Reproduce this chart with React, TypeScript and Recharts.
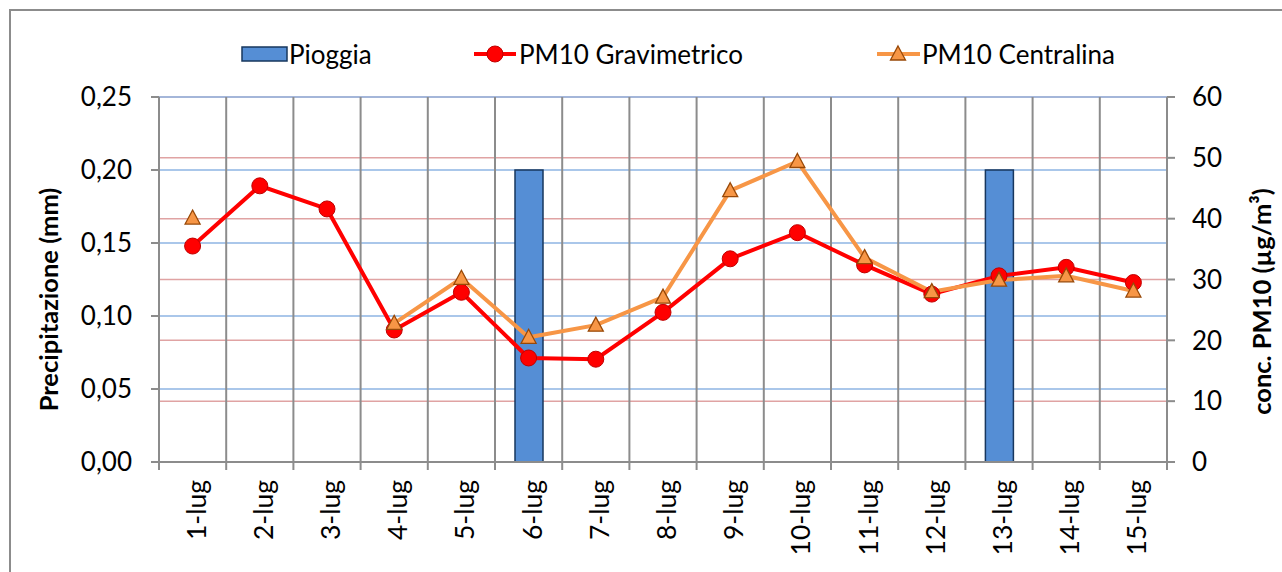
import {
  ComposedChart,
  Bar,
  Line,
  XAxis,
  YAxis,
  CartesianGrid,
  Legend,
} from "recharts";

const days = [
  "1-lug", "2-lug", "3-lug", "4-lug", "5-lug", "6-lug", "7-lug", "8-lug",
  "9-lug", "10-lug", "11-lug", "12-lug", "13-lug", "14-lug", "15-lug",
];
const pioggia = [null, null, null, null, null, 0.2, null, null, null, null, null, null, 0.2, null, null];
const gravimetrico = [35.5, 45.4, 41.6, 21.7, 27.9, 17.1, 16.9, 24.6, 33.4, 37.7, 32.4, 27.6, 30.6, 32.0, 29.5];
const centralina = [40.1, null, null, 22.8, 30.2, 20.5, 22.5, 27.1, 44.6, 49.4, 33.6, 28.0, 29.9, 30.6, 28.1];
const leftTicks = [0, 0.05, 0.1, 0.15, 0.2, 0.25];
const rightTicks = [0, 10, 20, 30, 40, 50, 60];

const data = days.map((d, i) => ({
  day: d,
  pioggia: pioggia[i],
  grav: gravimetrico[i],
  cent: centralina[i],
}));

const FONT = "Lato, 'Open Sans', sans-serif";
const W = 1282;
const H = 572;
const PLOT_W = 1008;
const band = PLOT_W / days.length;
const axisGray = "#8c8c8c";

const Triangle = (props: any) => {
  const { cx, cy } = props;
  if (cx == null || cy == null) return null;
  return (
    <path
      d={`M${cx},${cy - 8} L${cx + 7.5},${cy + 6} L${cx - 7.5},${cy + 6} Z`}
      fill="#F79646"
      stroke="#984807"
      strokeWidth={1.3}
    />
  );
};

const XTick = (props: any) => {
  const { x, y, payload, index } = props;
  return (
    <g transform={`translate(${x},${y})`}>
      <line x1={-band / 2} y1={0} x2={-band / 2} y2={8} stroke={axisGray} strokeWidth={2} />
      {index === days.length - 1 && (
        <line x1={band / 2} y1={0} x2={band / 2} y2={8} stroke={axisGray} strokeWidth={2} />
      )}
      <text
        x={0}
        y={0}
        transform="translate(3,18) rotate(-90)"
        textAnchor="end"
        dominantBaseline="central"
        fill="#000"
        fontSize={26.5}
        fontFamily={FONT}
      >
        {payload.value}
      </text>
    </g>
  );
};

const legendItems = [
  { name: "Pioggia", left: 241, kind: "bar" },
  { name: "PM10 Gravimetrico", left: 474, kind: "circle" },
  { name: "PM10 Centralina", left: 877, kind: "tri" },
];

const LegendBox = () => (
  <div style={{ position: "relative", width: W, height: 30 }}>
    {legendItems.map((it) => (
      <div
        key={it.name}
        style={{
          position: "absolute",
          left: it.left,
          top: 0,
          height: 30,
          display: "flex",
          alignItems: "center",
          fontFamily: FONT,
          fontSize: 26,
          color: "#000",
          whiteSpace: "nowrap",
        }}
      >
        <svg width={it.kind === "bar" ? 48 : 45} height={30}>
          {it.kind === "bar" && (
            <rect x={1} y={8} width={45} height={14} fill="#558ED5" stroke="#17375E" strokeWidth={1.5} />
          )}
          {it.kind === "circle" && (
            <g>
              <line x1={0} y1={15} x2={42} y2={15} stroke="#FF0000" strokeWidth={4} />
              <circle cx={21} cy={15} r={8} fill="#FF0000" stroke="#C00000" strokeWidth={1} />
            </g>
          )}
          {it.kind === "tri" && (
            <g>
              <line x1={0} y1={15} x2={43} y2={15} stroke="#F79646" strokeWidth={4} />
              <path d="M21,7 L28.5,21 L13.5,21 Z" fill="#F79646" stroke="#984807" strokeWidth={1.3} />
            </g>
          )}
        </svg>
        <span>{it.name}</span>
      </div>
    ))}
  </div>
);

const fmtLeft = (v: number) => v.toFixed(2).replace(".", ",");

export default function App() {
  return (
    <div style={{ position: "absolute", left: 0, top: 0, width: W, height: H, overflow: "hidden", background: "#fff" }}>
      <div
        style={{
          position: "absolute",
          left: 9,
          top: 9,
          width: W + 20,
          height: H + 20,
          border: `2px solid ${axisGray}`,
        }}
      />
      <div style={{ position: "absolute", left: 0, top: 0 }}>
        <ComposedChart
          width={W}
          height={H}
          data={data}
          margin={{ top: 97, right: 10, left: 10, bottom: 0 }}
        >
          <CartesianGrid yAxisId="right" vertical={false} stroke="#E0A3A3" strokeWidth={1.5} />
          <CartesianGrid yAxisId="left" vertical={false} stroke="#8EB4E3" strokeWidth={1.5} />
          <CartesianGrid
            horizontal={false}
            stroke={axisGray}
            strokeWidth={2}
            verticalCoordinatesGenerator={({ offset }: any) =>
              Array.from({ length: days.length + 1 }, (_, i) => offset.left + (i * offset.width) / days.length)
            }
          />
          <XAxis
            dataKey="day"
            height={110}
            tickSize={0}
            tickLine={false}
            tickMargin={0}
            interval={0}
            axisLine={{ stroke: axisGray, strokeWidth: 2 }}
            tick={XTick}
          />
          <YAxis
            yAxisId="left"
            orientation="left"
            width={149}
            domain={[0, 0.25]}
            ticks={leftTicks}
            tickFormatter={fmtLeft}
            tickSize={8}
            tickMargin={19}
            axisLine={{ stroke: axisGray, strokeWidth: 2 }}
            tickLine={{ stroke: axisGray, strokeWidth: 2 }}
            tick={{ fill: "#000", fontSize: 26, fontFamily: FONT }}
            label={{
              content: ({ viewBox }: any) => (
                <text
                  x={0}
                  y={0}
                  transform={`translate(${viewBox.x + 38},${viewBox.y + viewBox.height / 2 + 20}) rotate(-90)`}
                  textAnchor="middle"
                  dominantBaseline="central"
                  fontWeight="bold"
                  fontSize={25.5}
                  fontFamily={FONT}
                  fill="#000"
                >
                  Precipitazione (mm)
                </text>
              ),
            }}
          />
          <YAxis
            yAxisId="right"
            orientation="right"
            width={105}
            domain={[0, 60]}
            ticks={rightTicks}
            tickSize={8}
            tickMargin={17}
            axisLine={{ stroke: axisGray, strokeWidth: 2 }}
            tickLine={{ stroke: axisGray, strokeWidth: 2 }}
            tick={{ fill: "#000", fontSize: 26, fontFamily: FONT }}
            label={{
              content: ({ viewBox }: any) => (
                <text
                  x={0}
                  y={0}
                  transform={`translate(${viewBox.x + 94},${viewBox.y + viewBox.height / 2 + 22}) rotate(-90)`}
                  textAnchor="middle"
                  dominantBaseline="central"
                  fontWeight="bold"
                  fontSize={25.5}
                  fontFamily={FONT}
                  fill="#000"
                >
                  conc. PM10 (µg/m³)
                </text>
              ),
            }}
          />
          <Legend
            verticalAlign="middle"
            align="center"
            layout="horizontal"
            wrapperStyle={{ top: 39, left: 0, width: W }}
            content={() => <LegendBox />}
          />
          <Bar
            yAxisId="left"
            dataKey="pioggia"
            name="Pioggia"
            barSize={28}
            fill="#558ED5"
            stroke="#17375E"
            strokeWidth={1.5}
            isAnimationActive={false}
          />
          <Line
            yAxisId="right"
            dataKey="grav"
            name="PM10 Gravimetrico"
            stroke="#FF0000"
            strokeWidth={4}
            dot={{ r: 8, fill: "#FF0000", stroke: "#C00000", strokeWidth: 1 }}
            activeDot={false}
            isAnimationActive={false}
          />
          <Line
            yAxisId="right"
            dataKey="cent"
            name="PM10 Centralina"
            stroke="#F79646"
            strokeWidth={4}
            dot={Triangle}
            activeDot={false}
            isAnimationActive={false}
          />
        </ComposedChart>
      </div>
    </div>
  );
}
